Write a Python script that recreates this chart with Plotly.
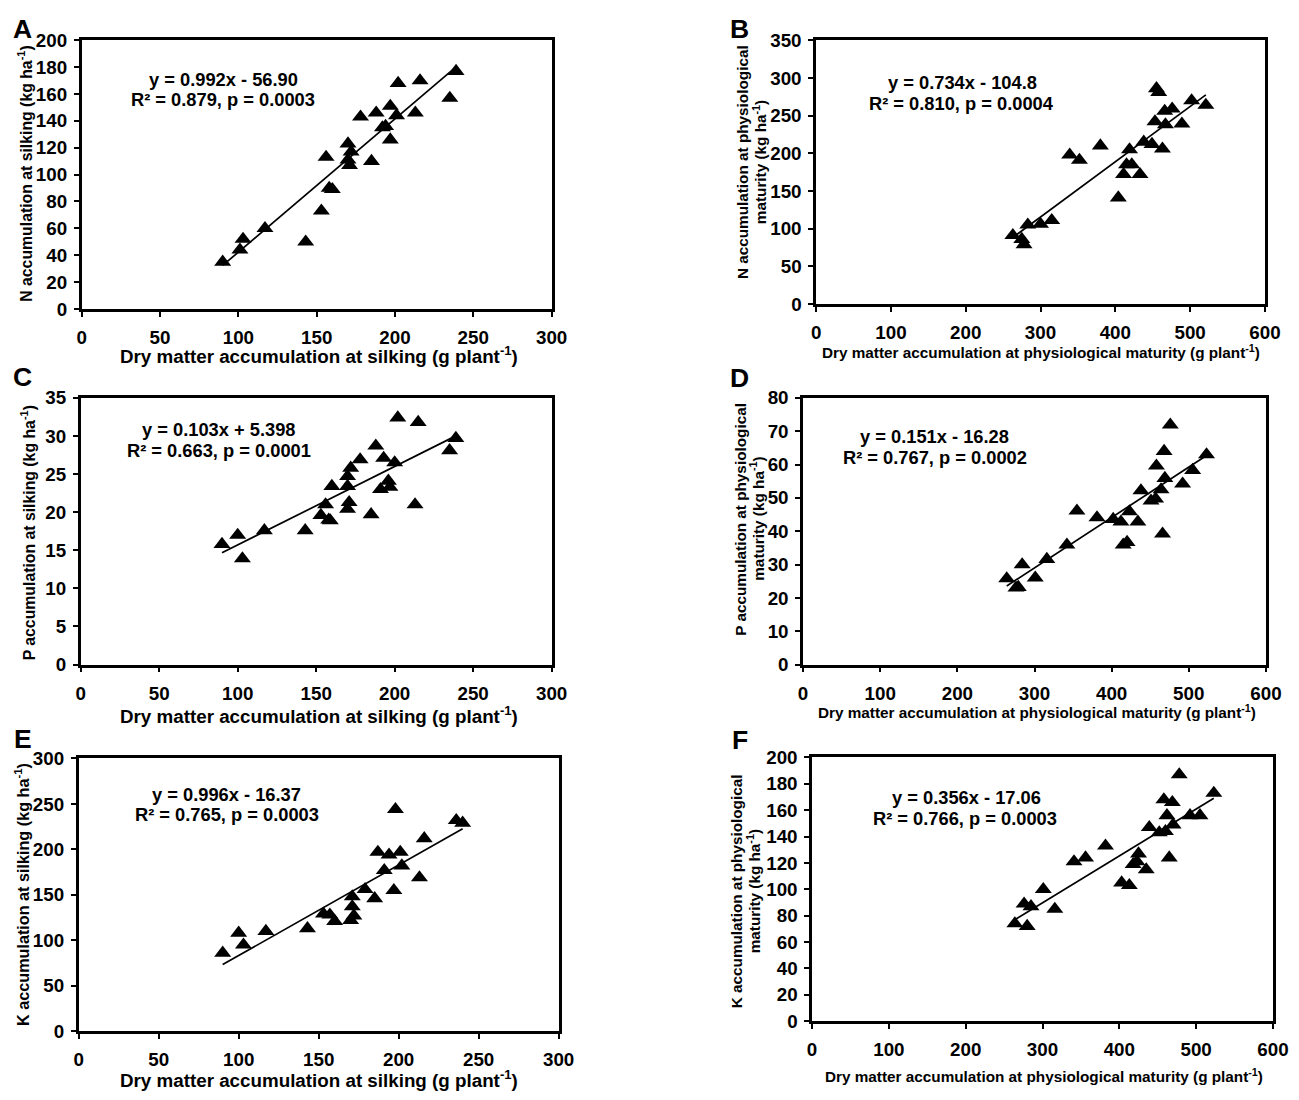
import plotly.graph_objects as go

W, H = 1299, 1100
# the photographed page comes out slightly shrunk and shifted; these undo it
CAL_S, CAL_X, CAL_Y = 0.982, 12.4, 17.7

# ---- values ----
# A: N at silking vs dry matter at silking
a_x = [90, 101, 103, 117, 143, 153, 156, 158, 160, 170, 172, 170, 171, 185, 178, 188, 192, 194, 197, 197, 201, 202, 213, 216, 235, 239]
a_y = [35, 44, 52, 60, 50, 73, 113, 90, 89, 123, 117, 111, 107, 110, 143, 146, 135, 136, 126, 151, 144, 168, 146, 170, 157, 177]

# B: N at maturity vs dry matter at maturity
b_x = [263, 275, 278, 283, 300, 315, 339, 352, 380, 404, 411, 415, 419, 422, 433, 438, 449, 455, 458, 453, 463, 466, 467, 476, 489, 502, 521]
b_y = [91, 86, 79, 105, 106, 111, 198, 191, 210, 141, 172, 185, 205, 185, 172, 215, 212, 286, 281, 242, 206, 256, 238, 259, 239, 270, 264]

# C: P at silking
c_x = [90, 100, 103, 117, 143, 153, 156, 158, 159, 160, 170, 170, 171, 170, 172, 178, 185, 188, 191, 193, 196, 197, 200, 202, 213, 215, 235, 239]
c_y = [15.8, 17.0, 13.9, 17.6, 17.6, 19.6, 21.0, 19.0, 18.9, 23.4, 23.4, 24.7, 21.3, 20.4, 25.8, 26.9, 19.7, 28.7, 23.0, 27.1, 24.1, 23.3, 26.5, 32.4, 21.0, 31.8, 28.1, 29.7]

# D: P at maturity
d_x = [264, 276, 279, 284, 301, 316, 342, 355, 381, 402, 412, 415, 420, 423, 434, 438, 451, 457, 458, 464, 466, 468, 469, 476, 492, 505, 523]
d_y = [25.8, 23.0, 23.2, 30.0, 26.0, 31.6, 35.9, 46.1, 44.1, 43.6, 42.8, 35.9, 36.7, 45.9, 42.8, 52.2, 49.1, 49.7, 59.6, 52.5, 39.2, 64.0, 55.9, 71.9, 54.2, 58.3, 63.0]

# E: K at silking
e_x = [90, 100, 103, 117, 143, 153, 157, 160, 170, 172, 171, 171, 179, 185, 187, 191, 194, 197, 198, 201, 202, 213, 216, 236, 240]
e_y = [86, 108, 95, 110, 113, 129, 128, 121, 122, 127, 137, 148, 156, 146, 197, 177, 194, 155, 244, 197, 182, 169, 212, 232, 229]

# F: K at maturity
f_x = [264, 276, 280, 285, 301, 316, 341, 356, 382, 403, 413, 418, 423, 425, 435, 439, 452, 460, 458, 462, 465, 469, 470, 478, 492, 505, 523]
f_y = [74, 89, 72, 87, 100, 85, 121, 124, 133, 105, 103, 119, 121, 127, 115, 147, 143, 144, 168, 156, 124, 166, 149, 187, 156, 156, 173]

slopes = [0.992, 0.734, 0.103, 0.151, 0.996, 0.356]
intercepts = [-56.90, -104.8, 5.398, -16.28, -16.37, -17.06]
eq_lines = ["y = 0.992x - 56.90", "y = 0.734x - 104.8", "y = 0.103x + 5.398",
            "y = 0.151x - 16.28", "y = 0.996x - 16.37", "y = 0.356x - 17.06"]
r2_lines = ["R² = 0.879, p = 0.0003", "R² = 0.810, p = 0.0004", "R² = 0.663, p = 0.0001",
            "R² = 0.767, p = 0.0002", "R² = 0.765, p = 0.0003", "R² = 0.766, p = 0.0003"]
letters = ["A", "B", "C", "D", "E", "F"]

xt_silk = "Dry matter accumulation at silking (g plant<sup>-1</sup>)"
xt_mat = "Dry matter accumulation at physiological maturity (g plant<sup>-1</sup>)"
x_titles = [xt_silk, xt_mat, xt_silk, xt_mat, xt_silk, xt_mat]
y_titles = [["N accumulation at silking (kg ha<sup>-1</sup>)"],
            ["N accumulation at physiological", "maturity (kg ha<sup>-1</sup>)"],
            ["P accumulation at silking (kg ha<sup>-1</sup>)"],
            ["P accumulation at physiological", "maturity (kg ha<sup>-1</sup>)"],
            ["K accumulation at silking (kg ha<sup>-1</sup>)"],
            ["K accumulation at physiological", "maturity (kg ha<sup>-1</sup>)"]]

x_max = [300, 600, 300, 600, 300, 600]
x_step = [50, 100, 50, 100, 50, 100]
y_max = [200, 350, 35, 80, 300, 200]
y_step = [20, 50, 5, 10, 50, 20]

xs = [a_x, b_x, c_x, d_x, e_x, f_x]
ys = [a_y, b_y, c_y, d_y, e_y, f_y]

# ---- layout in picture pixels (left, right, top, bottom) ----
boxes = [(81, 550, 40, 309), (814, 1262, 40, 304), (80, 550, 398, 665),
         (801, 1263, 398, 665), (78, 557, 759, 1032), (810, 1270, 758, 1022)]
letter_pos = [(22, 29), (738, 29), (22, 377), (738, 378), (22, 740), (738, 741)]
eq_pos = [((223, 79), (222, 99)), ((960, 82), (959, 103)), ((218, 430), (218, 451)),
          ((932, 437), (933, 458)), ((226, 795), (226, 815)), ((964, 798), (963, 819))]
xt_pos = [(318, 355), (1038, 352), (318, 715), (1034, 712), (318, 1080), (1041, 1076)]
xt_size = [18.8, 15.3, 18.8, 15.3, 18.8, 15.3]
yt_pos = [[(25, 174)], [(740, 162), (757, 162)], [(27, 533)],
          [(739, 519), (755, 519)], [(22, 895)], [(734, 892), (751, 892)]]
yt_size = [15.8, 15.3, 15.8, 15.3, 16.2, 15.3]

FONT = "Liberation Sans, Arial, sans-serif"


def px(x, y):
    # picture pixels -> paper fractions
    u = (x - CAL_X) / CAL_S
    v = (y - CAL_Y) / CAL_S
    return u / W, 1 - v / H


fig = go.Figure()
annotations = []
for i in range(6):
    n = "" if i == 0 else str(i + 1)
    left, right, top, bottom = boxes[i]
    fig.add_trace(go.Scatter(
        x=xs[i], y=ys[i], mode="markers", xaxis="x" + n, yaxis="y" + n,
        marker=dict(symbol="triangle-up", size=14.8, color="black"),
        showlegend=False))
    x0, x1 = min(xs[i]), max(xs[i])
    fig.add_trace(go.Scatter(
        x=[x0, x1], y=[slopes[i] * x0 + intercepts[i], slopes[i] * x1 + intercepts[i]],
        mode="lines", xaxis="x" + n, yaxis="y" + n,
        line=dict(color="black", width=1.7), showlegend=False))

    axis_common = dict(showline=True, linecolor="black", linewidth=2.5, mirror=True,
                       ticks="outside", ticklen=5, tickwidth=2, tickcolor="black",
                       showgrid=False, zeroline=False, tickmode="linear", tick0=0,
                       tickfont=dict(family=FONT, size=18.8, color="black", weight="bold"))
    dl, db = px(left, bottom)
    dr, dt = px(right, top)
    fig.update_layout(**{
        "xaxis" + n: dict(axis_common, domain=[dl, dr], range=[0, x_max[i]],
                          dtick=x_step[i], anchor="y" + n, ticklabelstandoff=5),
        "yaxis" + n: dict(axis_common, domain=[db, dt], range=[0, y_max[i]],
                          dtick=y_step[i], anchor="x" + n, ticklabelstandoff=3),
    })

    lx, ly = px(*letter_pos[i])
    annotations.append(dict(text=letters[i], x=lx, y=ly, xref="paper", yref="paper",
                            showarrow=False, xanchor="center", yanchor="middle",
                            font=dict(family=FONT, size=26.5, color="black", weight="bold")))
    for txt, pos in zip([eq_lines[i], r2_lines[i]], eq_pos[i]):
        ex, ey = px(*pos)
        annotations.append(dict(text=txt, x=ex, y=ey, xref="paper", yref="paper",
                                showarrow=False, xanchor="center", yanchor="middle",
                                font=dict(family=FONT, size=18.3, color="black", weight="bold")))
    tx, ty = px(*xt_pos[i])
    annotations.append(dict(text=x_titles[i], x=tx, y=ty, xref="paper", yref="paper",
                            showarrow=False, xanchor="center", yanchor="middle",
                            font=dict(family=FONT, size=xt_size[i], color="black", weight="bold")))
    for txt, pos in zip(y_titles[i], yt_pos[i]):
        vx, vy = px(*pos)
        annotations.append(dict(text=txt, x=vx, y=vy, xref="paper", yref="paper",
                                showarrow=False, xanchor="center", yanchor="middle",
                                textangle=-90,
                                font=dict(family=FONT, size=yt_size[i], color="black", weight="bold")))

fig.update_layout(width=W, height=H, margin=dict(l=0, r=0, t=0, b=0),
                  plot_bgcolor="white", paper_bgcolor="white",
                  font=dict(family=FONT, color="black"),
                  annotations=annotations)

fig.write_html("out.html")
